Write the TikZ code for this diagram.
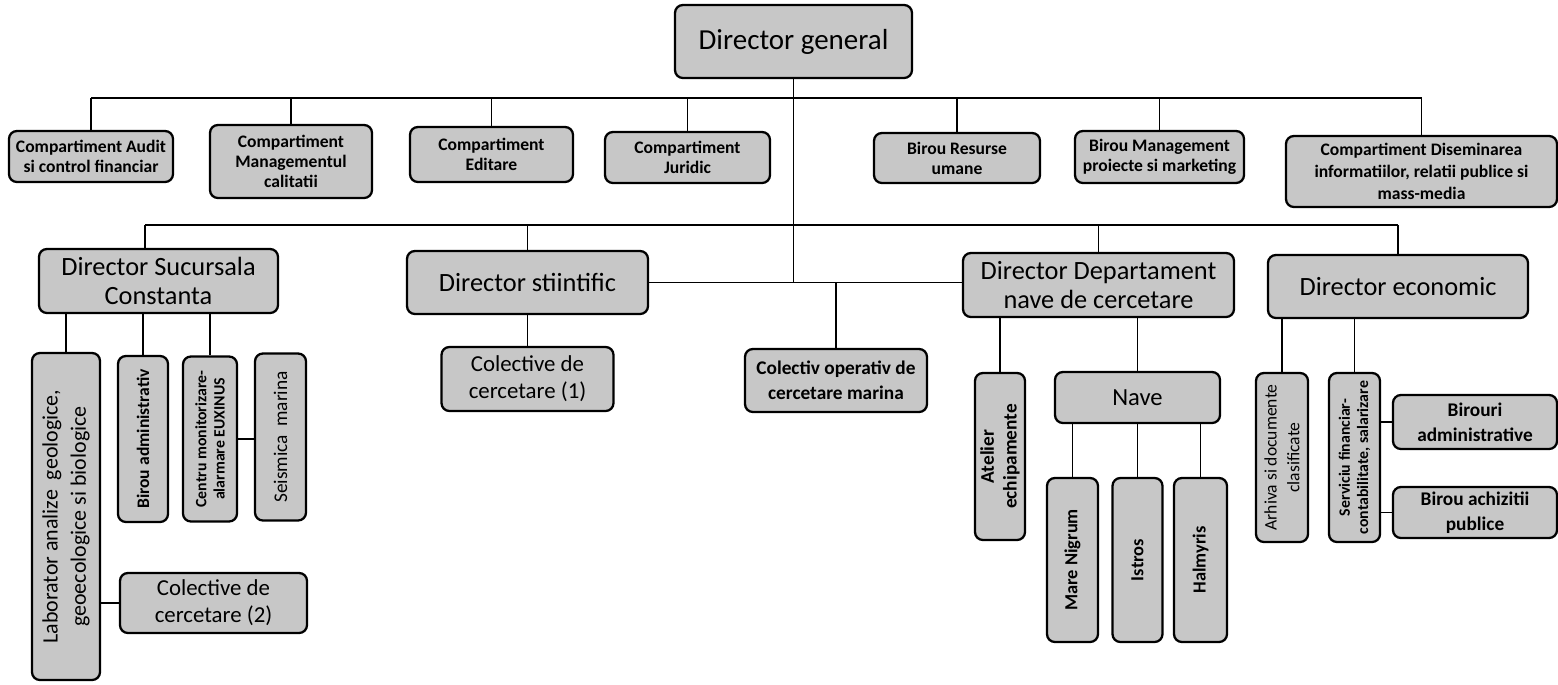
\documentclass[tikz,border=0pt]{standalone}
\usepackage{fontspec}
\setmainfont{Carlito}

\tikzset{
  unit/.style={draw=black, line width=1.3pt, rounded corners=4.5pt, fill=black!22,
    align=center, inner sep=1pt, font=\bfseries\fontsize{10}{11.5}\selectfont},
  wh/.style 2 args={minimum width=#1*0.02cm, minimum height=#2*0.02cm},
  director/.style={unit, font=\fontsize{15}{17}\selectfont},
  upright/.style={unit, rotate=90},
  link/.style={line width=0.9pt},
}

\begin{document}
\begin{tikzpicture}[x=0.02cm, y=-0.02cm]
  \useasboundingbox (0,0) rectangle (1558,684);

  % top
  \node[director, wh={237}{73}, font=\fontsize{16.5}{18}\selectfont] (dg) at (793.5,41.5) {Director general};

  % compartments under the general director
  \node[unit, wh={164}{51}] (audit) at (91,156.5) {Compartiment Audit\\si control financiar};
  \node[unit, wh={162}{73}] (calit) at (291,161.5) {Compartiment\\Managementul\\calitatii};
  \node[unit, wh={163}{55}] (edit)  at (491.5,154.5) {Compartiment\\Editare};
  \node[unit, wh={165}{51}] (jur)   at (687.5,157.5) {Compartiment\\Juridic};
  \node[unit, wh={166}{50}] (hr)    at (957,158) {Birou Resurse\\umane};
  \node[unit, wh={169}{52}] (proj)  at (1159.5,157) {Birou Management\\proiecte si marketing};
  \node[unit, wh={271}{71}, font=\bfseries\fontsize{10}{12.5}\selectfont] (dis) at (1421.5,171.5) {Compartiment Diseminarea\\informatiilor, relatii publice si\\mass-media};

  % directors
  \node[director, wh={239}{64}] (dsc) at (158.5,281) {Director Sucursala\\Constanta};
  \node[director, wh={241}{63}] (ds)  at (527.5,282.5) {Director stiintific};
  \node[director, wh={271}{64}] (dd)  at (1098.5,285) {Director Departament\\nave de cercetare};
  \node[director, wh={260}{63}] (de)  at (1398,286.5) {Director economic};

  \node[unit, wh={172}{64}, font=\fontsize{13}{15.5}\selectfont] (col1) at (527.5,379) {Colective de\\cercetare (1)};
  \node[unit, wh={182}{63}, font=\bfseries\fontsize{11}{14}\selectfont] (colop) at (836,380.5) {Colectiv operativ de\\cercetare marina};

  % Sucursala Constanta
  \node[upright, wh={327}{68}, font=\fontsize{12.5}{16}\selectfont] (lab) at (66,516.5) {Laborator analize\ \ geologice,\\geoecologice si biologice};
  \node[upright, wh={166}{50}, font=\bfseries\fontsize{10}{12}\selectfont] (badm) at (143,439) {Birou administrativ};
  \node[upright, wh={165}{54}, font=\bfseries\fontsize{9}{10.5}\selectfont] (centru) at (210,439) {Centru monitorizare-\\alarmare EUXINUS};
  \node[upright, wh={167}{51}, font=\fontsize{11}{13}\selectfont] (seism) at (280.5,437) {Seismica\ \ marina};
  \node[unit, wh={187}{60}, font=\fontsize{13}{15.5}\selectfont] (col2) at (213.5,603) {Colective de\\cercetare (2)};

  % Departament nave
  \node[upright, wh={167}{50}, font=\bfseries\fontsize{11}{13}\selectfont] (atel) at (1000,456.5) {Atelier\\echipamente};
  \node[unit, wh={165}{51}, font=\fontsize{14}{16}\selectfont] (nave) at (1137.5,397.5) {Nave};
  \node[upright, wh={164}{51}, font=\bfseries\fontsize{10.5}{12}\selectfont] (mn)  at (1072.5,560) {Mare Nigrum};
  \node[upright, wh={164}{50}, font=\bfseries\fontsize{10.5}{12}\selectfont] (ist) at (1137.5,560) {Istros};
  \node[upright, wh={164}{53}, font=\bfseries\fontsize{10.5}{12}\selectfont] (hal) at (1200.5,560) {Halmyris};

  % economic
  \node[upright, wh={169}{52}, font=\fontsize{10}{13}\selectfont] (arh) at (1282,457.5) {Arhiva si documente\\clasificate};
  \node[upright, wh={169}{51}, font=\bfseries\fontsize{9}{10.5}\selectfont] (serv) at (1354.5,457.5) {Serviciu financiar-\\contabilitate, salarizare};
  \node[unit, wh={164}{54}, font=\bfseries\fontsize{11}{14}\selectfont] (bad2) at (1475,422) {Birouri\\administrative};
  \node[unit, wh={164}{51}, font=\bfseries\fontsize{11}{14}\selectfont] (bach) at (1475,512.5) {Birou achizitii\\publice};

  % connectors
  \coordinate (bus1) at (0,98);
  \coordinate (bus2) at (0,225);
  \coordinate (dscin) at ([xshift=-0.27cm]dsc.north);

  \draw[link] (dg.south) -- (dg.south |- ds.east);
  \draw[link] (bus1 -| audit.north) -- (bus1 -| dis.north);
  \foreach \n in {audit,calit,edit,jur,hr,proj,dis}
    \draw[link] (bus1 -| \n.north) -- (\n.north);

  \draw[link] (bus2 -| dscin) -- (bus2 -| de.north);
  \draw[link] (bus2 -| dscin) -- (dscin);
  \foreach \n in {ds,dd,de}
    \draw[link] (bus2 -| \n.north) -- (\n.north);

  \draw[link] (ds.east) -- (ds.east -| dd.west);
  \draw[link] (colop.north |- ds.east) -- (colop.north);
  \draw[link] (ds.south) -- (col1.north);

  \foreach \n in {lab,badm,centru}
    \draw[link] (dsc.south -| \n.east) -- (\n.east);
  \draw[link] (centru.south) -- (centru.south -| seism.north);
  \draw[link] (lab.south |- col2.west) -- (col2.west);

  \draw[link] (dd.south -| atel.east) -- (atel.east);
  \draw[link] (dd.south -| nave.north) -- (nave.north);
  \foreach \n in {mn,ist,hal}
    \draw[link] (nave.south -| \n.east) -- (\n.east);

  \draw[link] (de.south -| arh.east) -- (arh.east);
  \draw[link] (de.south -| serv.east) -- (serv.east);
  \draw[link] (serv.south |- bad2.west) -- (bad2.west);
  \draw[link] (serv.south |- bach.west) -- (bach.west);
\end{tikzpicture}
\end{document}
